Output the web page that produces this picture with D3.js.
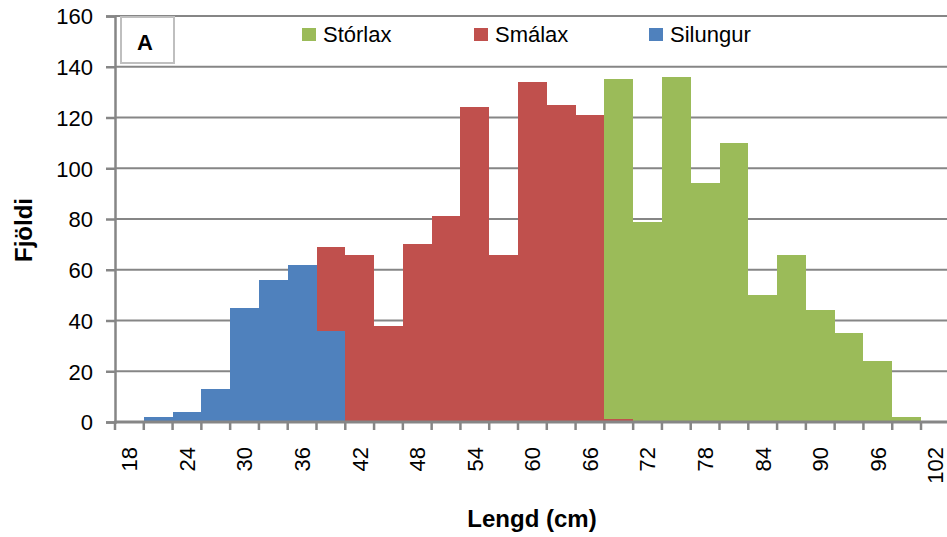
<!DOCTYPE html>
<html>
<head>
<meta charset="utf-8">
<script src="https://cdn.jsdelivr.net/npm/d3@7"></script>
<style>
  html, body { margin: 0; padding: 0; background: #fff; }
  svg { display: block; }
  text { font-family: "Liberation Sans", Arial, sans-serif; fill: #000; }
</style>
</head>
<body>
<svg id="chart" width="947" height="537"></svg>
<script>
// ---- data ----
const categories = [18,21,24,27,30,33,36,39,42,45,48,51,54,57,60,63,66,69,72,75,78,81,84,87,90,93,96,99,102];
const labelCategories = [18,24,30,36,42,48,54,60,66,72,78,84,90,96,102];
const silungur = [0,2,4,13,45,56,62,36,0,0,0,0,0,0,0,0,0,0,0,0,0,0,0,0,0,0,0,0,0];
const smalax   = [0,0,0,0,0,0,0,33,66,38,70,81,124,66,134,125,121,1,0,0,0,0,0,0,0,0,0,0,0];
const storlax  = [0,0,0,0,0,0,0,0,0,0,0,0,0,0,0,0,0,134,79,136,94,110,50,66,44,35,24,2,0];
const seriesNames = ["Silungur","Smálax","Stórlax"];
const seriesColors = ["#4F81BD","#C0504D","#9BBB59"];
const legendOrder = ["Stórlax","Smálax","Silungur"];
const yTicks = [0,20,40,60,80,100,120,140,160];
const xTitle = "Lengd (cm)";
const yTitle = "Fjöldi";
const panelLabel = "A";

// ---- layout ----
const svg = d3.select("#chart");
const pLeft = 115, pTop = 16, pBottom = 422;
const bw = 28.786;
const pRight = pLeft + bw * categories.length;
const gridColor = "#868686";

const x = d3.scaleBand().domain(categories).range([pLeft, pRight]).padding(0);
const y = d3.scaleLinear().domain([0,160]).range([pBottom, pTop]);

const rows = categories.map((c,i) => ({cat:c, Silungur:silungur[i], "Smálax":smalax[i], "Stórlax":storlax[i]}));
const stack = d3.stack().keys(seriesNames)(rows);

// gridlines
svg.append("g").selectAll("line").data(yTicks.filter(v => v > 0)).join("line")
  .attr("x1", pLeft).attr("x2", pRight)
  .attr("y1", d => y(d)).attr("y2", d => y(d))
  .attr("stroke", gridColor).attr("stroke-width", 2);

// bars
svg.append("g").attr("shape-rendering", "crispEdges").selectAll("g").data(stack).join("g")
  .attr("fill", (d,i) => seriesColors[i])
  .selectAll("rect").data(d => d.filter(s => s[1] - s[0] > 0)).join("rect")
  .attr("x", d => x(d.data.cat))
  .attr("width", x.bandwidth())
  .attr("y", d => y(d[1]))
  .attr("height", d => y(d[0]) - y(d[1]));

// y axis
const yAxis = svg.append("g").attr("transform", `translate(${pLeft},0)`)
  .call(d3.axisLeft(y).tickValues(yTicks).tickSize(9).tickPadding(13));
yAxis.select(".domain").attr("stroke", gridColor).attr("stroke-width", 2.5);
yAxis.selectAll(".tick line").attr("stroke", gridColor).attr("stroke-width", 2.5);
yAxis.selectAll(".tick text").attr("font-size", 22).attr("fill", "#000")
  .attr("font-family", "Liberation Sans, Arial, sans-serif").attr("dy", "0.36em");

// x axis
const xAxis = svg.append("g").attr("transform", `translate(0,${pBottom})`);
xAxis.append("line").attr("x1", pLeft - 1).attr("x2", pRight).attr("y1", 0).attr("y2", 0)
  .attr("stroke", gridColor).attr("stroke-width", 3);
const boundaries = categories.map(c => x(c)).concat([pRight]);
xAxis.selectAll("line.tk").data(boundaries).join("line").attr("class","tk")
  .attr("x1", d => d).attr("x2", d => d).attr("y1", 0).attr("y2", 8)
  .attr("stroke", gridColor).attr("stroke-width", 2.5);
xAxis.selectAll("text.lb").data(labelCategories).join("text").attr("class","lb")
  .attr("transform", d => `translate(${x(d) + x.bandwidth()/2},${25}) rotate(-90)`)
  .attr("text-anchor", "end").attr("dy", "0.36em")
  .attr("font-size", 22).text(d => d);

// axis titles
svg.append("text").attr("x", (467+597)/2).attr("y", 527)
  .attr("text-anchor", "middle").attr("font-size", 24).attr("font-weight", "bold").text(xTitle);
svg.append("text").attr("transform", `translate(32,${230}) rotate(-90)`)
  .attr("text-anchor", "middle").attr("font-size", 24).attr("font-weight", "bold").text(yTitle);

// panel label box
svg.append("rect").attr("x", 121).attr("y", 17).attr("width", 53).attr("height", 46)
  .attr("fill", "#fff").attr("stroke", "#BFBFBF").attr("stroke-width", 2);
svg.append("text").attr("x", 137).attr("y", 50).attr("font-size", 22).attr("font-weight", "bold").text(panelLabel);

// legend
const legendX = [302, 474, 649];
const lg = svg.append("g").selectAll("g").data(legendOrder).join("g")
  .attr("transform", (d,i) => `translate(${legendX[i]},28)`);
lg.append("rect").attr("width", 14).attr("height", 13)
  .attr("fill", d => seriesColors[seriesNames.indexOf(d)]);
lg.append("text").attr("x", 21).attr("y", 13.5).attr("font-size", 22).text(d => d);
</script>
</body>
</html>
